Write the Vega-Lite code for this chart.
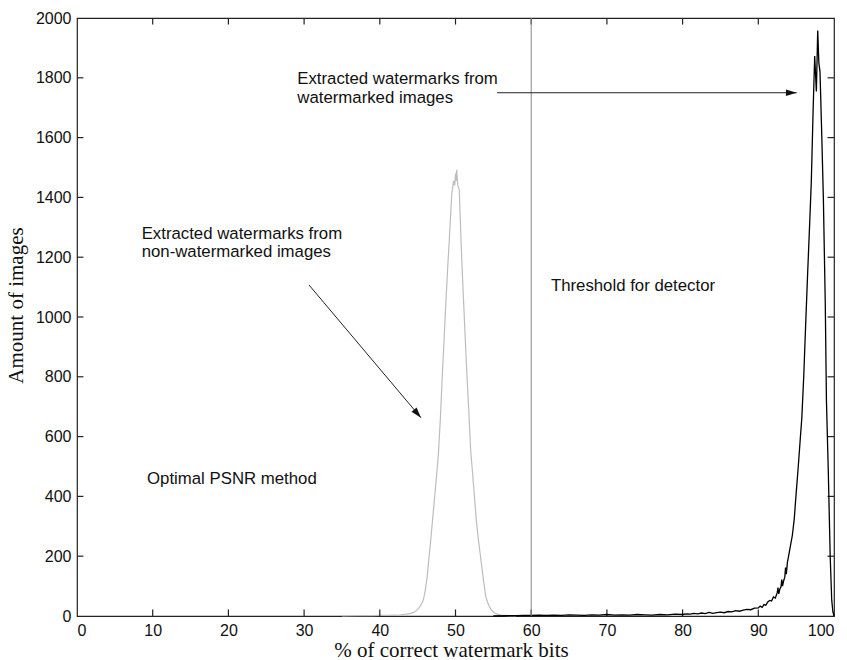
{
  "$schema": "https://vega.github.io/schema/vega-lite/v6.json",
  "width": 757,
  "height": 598,
  "autosize": {"type": "none"},
  "padding": {"left": 77, "top": 18, "right": 13, "bottom": 44},
  "background": "white",
  "config": {
    "view": {"stroke": "#222", "strokeWidth": 1.2},
    "axis": {
      "domain": false,
      "grid": false,
      "ticks": false,
      "labelFont": "Liberation Sans",
      "labelFontSize": 16,
      "labelColor": "#111",
      "titleFont": "Liberation Serif",
      "titleFontSize": 21,
      "titleFontWeight": "normal",
      "titleColor": "#111"
    }
  },
  "datasets": {
    "gray": [
      {"pct": 35, "n": 0}, {"pct": 37, "n": 1}, {"pct": 39, "n": 1}, {"pct": 40, "n": 2},
      {"pct": 41, "n": 2}, {"pct": 42, "n": 3}, {"pct": 42.5, "n": 2}, {"pct": 43, "n": 5},
      {"pct": 43.5, "n": 6}, {"pct": 44, "n": 8}, {"pct": 44.5, "n": 12}, {"pct": 45, "n": 22},
      {"pct": 45.25, "n": 30}, {"pct": 45.5, "n": 40}, {"pct": 45.75, "n": 53}, {"pct": 46, "n": 85},
      {"pct": 46.25, "n": 130}, {"pct": 46.5, "n": 195}, {"pct": 46.75, "n": 260}, {"pct": 47, "n": 330},
      {"pct": 47.25, "n": 400}, {"pct": 47.5, "n": 470}, {"pct": 47.75, "n": 545}, {"pct": 48, "n": 660},
      {"pct": 48.25, "n": 800}, {"pct": 48.5, "n": 930}, {"pct": 48.75, "n": 1060}, {"pct": 49, "n": 1180},
      {"pct": 49.25, "n": 1290}, {"pct": 49.5, "n": 1410}, {"pct": 49.75, "n": 1455}, {"pct": 49.9, "n": 1440},
      {"pct": 50, "n": 1480}, {"pct": 50.08, "n": 1455}, {"pct": 50.16, "n": 1492}, {"pct": 50.3, "n": 1440},
      {"pct": 50.5, "n": 1425}, {"pct": 50.75, "n": 1240}, {"pct": 51, "n": 1090}, {"pct": 51.25, "n": 950},
      {"pct": 51.5, "n": 810}, {"pct": 51.75, "n": 690}, {"pct": 52, "n": 555}, {"pct": 52.25, "n": 480},
      {"pct": 52.5, "n": 400}, {"pct": 52.75, "n": 320}, {"pct": 53, "n": 260}, {"pct": 53.25, "n": 210},
      {"pct": 53.5, "n": 160}, {"pct": 53.75, "n": 110}, {"pct": 54, "n": 65}, {"pct": 54.25, "n": 45},
      {"pct": 54.5, "n": 30}, {"pct": 54.75, "n": 20}, {"pct": 55, "n": 13}, {"pct": 55.25, "n": 9},
      {"pct": 55.5, "n": 6}, {"pct": 56, "n": 3}, {"pct": 56.5, "n": 2}, {"pct": 57, "n": 1},
      {"pct": 58, "n": 0}
    ],
    "black": [
      {"pct": 55, "n": 0}, {"pct": 57, "n": 1}, {"pct": 58, "n": 1}, {"pct": 59, "n": 2},
      {"pct": 60, "n": 2}, {"pct": 61, "n": 3}, {"pct": 62, "n": 2}, {"pct": 63, "n": 3},
      {"pct": 64, "n": 2}, {"pct": 65, "n": 4}, {"pct": 66, "n": 3}, {"pct": 67, "n": 2},
      {"pct": 68, "n": 4}, {"pct": 69, "n": 3}, {"pct": 70, "n": 5}, {"pct": 71, "n": 3},
      {"pct": 72, "n": 4}, {"pct": 73, "n": 3}, {"pct": 74, "n": 5}, {"pct": 75, "n": 4},
      {"pct": 76, "n": 3}, {"pct": 77, "n": 5}, {"pct": 78, "n": 4}, {"pct": 79, "n": 6},
      {"pct": 80, "n": 5}, {"pct": 80.5, "n": 7}, {"pct": 81, "n": 6}, {"pct": 81.5, "n": 9},
      {"pct": 82, "n": 7}, {"pct": 82.5, "n": 10}, {"pct": 83, "n": 8}, {"pct": 83.5, "n": 12},
      {"pct": 84, "n": 9}, {"pct": 84.5, "n": 11}, {"pct": 85, "n": 13}, {"pct": 85.5, "n": 11},
      {"pct": 86, "n": 15}, {"pct": 86.5, "n": 14}, {"pct": 87, "n": 18}, {"pct": 87.5, "n": 16},
      {"pct": 88, "n": 20}, {"pct": 88.5, "n": 22}, {"pct": 89, "n": 21}, {"pct": 89.5, "n": 26},
      {"pct": 90, "n": 27}, {"pct": 90.25, "n": 33}, {"pct": 90.5, "n": 29}, {"pct": 90.75, "n": 38},
      {"pct": 91, "n": 36}, {"pct": 91.25, "n": 47}, {"pct": 91.5, "n": 52}, {"pct": 91.75, "n": 50},
      {"pct": 92, "n": 64}, {"pct": 92.25, "n": 60}, {"pct": 92.5, "n": 78}, {"pct": 92.6, "n": 95},
      {"pct": 92.7, "n": 74}, {"pct": 92.85, "n": 90}, {"pct": 93, "n": 98}, {"pct": 93.1, "n": 122},
      {"pct": 93.2, "n": 100}, {"pct": 93.35, "n": 118}, {"pct": 93.5, "n": 130}, {"pct": 93.6, "n": 162},
      {"pct": 93.7, "n": 140}, {"pct": 93.85, "n": 180}, {"pct": 94, "n": 200}, {"pct": 94.25, "n": 235},
      {"pct": 94.5, "n": 270}, {"pct": 94.75, "n": 325}, {"pct": 95, "n": 410}, {"pct": 95.25, "n": 490},
      {"pct": 95.5, "n": 577}, {"pct": 95.75, "n": 663}, {"pct": 96, "n": 800}, {"pct": 96.25, "n": 970},
      {"pct": 96.5, "n": 1135}, {"pct": 96.75, "n": 1290}, {"pct": 97, "n": 1450}, {"pct": 97.25, "n": 1700},
      {"pct": 97.45, "n": 1873}, {"pct": 97.67, "n": 1754}, {"pct": 97.85, "n": 1958}, {"pct": 98, "n": 1850},
      {"pct": 98.15, "n": 1820}, {"pct": 98.4, "n": 1592}, {"pct": 98.6, "n": 1391}, {"pct": 98.85, "n": 1040},
      {"pct": 99, "n": 722}, {"pct": 99.25, "n": 480}, {"pct": 99.5, "n": 197}, {"pct": 99.7, "n": 53},
      {"pct": 99.85, "n": 15}, {"pct": 100, "n": 0}
    ],
    "notes": [
      {"x": 29.1, "y": 1779, "text": "Extracted watermarks from"},
      {"x": 29.1, "y": 1715, "text": "watermarked images"},
      {"x": 8.54, "y": 1260, "text": "Extracted watermarks from"},
      {"x": 8.54, "y": 1200, "text": "non-watermarked images"},
      {"x": 62.6, "y": 1088, "text": "Threshold for detector"},
      {"x": 9.25, "y": 441, "text": "Optimal PSNR method"}
    ],
    "arrows": [
      {"x": 55.5, "y": 1750, "x2": 95.07, "y2": 1750},
      {"x": 30.65, "y": 1107, "x2": 45.44, "y2": 663}
    ],
    "heads": [
      {"x": 95.07, "y": 1750, "angle": 0},
      {"x": 45.44, "y": 663, "angle": 49.8}
    ],
    "xticks": [
      {"v": 10}, {"v": 20}, {"v": 30}, {"v": 40}, {"v": 50},
      {"v": 60}, {"v": 70}, {"v": 80}, {"v": 90}
    ],
    "yticks": [
      {"v": 200}, {"v": 400}, {"v": 600}, {"v": 800}, {"v": 1000},
      {"v": 1200}, {"v": 1400}, {"v": 1600}, {"v": 1800}
    ]
  },
  "resolve": {"axis": {"x": "independent", "y": "independent"}},
  "layer": [
    {
      "data": {"name": "gray"},
      "mark": {"type": "line", "color": "#bdbdbd", "strokeWidth": 1.2},
      "encoding": {
        "x": {
          "field": "pct", "type": "quantitative",
          "scale": {"domain": [0, 100], "nice": false, "zero": false},
          "axis": {
            "orient": "bottom",
            "values": [0, 10, 20, 30, 40, 50, 60, 70, 80, 90, 100],
            "format": "d",
            "labelPadding": 6,
            "title": "% of correct watermark bits",
            "titleX": 374,
            "titleY": 40,
            "titleAlign": "center",
            "titleBaseline": "alphabetic"
          }
        },
        "y": {
          "field": "n", "type": "quantitative",
          "scale": {"domain": [0, 2000], "nice": false},
          "axis": {
            "orient": "left",
            "values": [0, 200, 400, 600, 800, 1000, 1200, 1400, 1600, 1800, 2000],
            "format": "d",
            "labelPadding": 6,
            "title": "Amount of images",
            "titleX": -55,
            "titleY": 287,
            "titleAngle": -90,
            "titleAlign": "center",
            "titleBaseline": "alphabetic"
          }
        }
      }
    },
    {
      "data": {"name": "xticks"},
      "mark": {"type": "rule", "color": "#222", "strokeWidth": 1.2},
      "encoding": {
        "x": {"field": "v", "type": "quantitative", "axis": null},
        "y": {"datum": 0, "type": "quantitative", "axis": null},
        "y2": {"datum": 22}
      }
    },
    {
      "data": {"name": "xticks"},
      "mark": {"type": "rule", "color": "#222", "strokeWidth": 1.2},
      "encoding": {
        "x": {"field": "v", "type": "quantitative", "axis": null},
        "y": {"datum": 1978, "type": "quantitative", "axis": null},
        "y2": {"datum": 2000}
      }
    },
    {
      "data": {"name": "yticks"},
      "mark": {"type": "rule", "color": "#222", "strokeWidth": 1.2},
      "encoding": {
        "y": {"field": "v", "type": "quantitative", "axis": null},
        "x": {"datum": 0, "type": "quantitative", "axis": null},
        "x2": {"datum": 0.85}
      }
    },
    {
      "data": {"name": "yticks"},
      "mark": {"type": "rule", "color": "#222", "strokeWidth": 1.2},
      "encoding": {
        "y": {"field": "v", "type": "quantitative", "axis": null},
        "x": {"datum": 99.15, "type": "quantitative", "axis": null},
        "x2": {"datum": 100}
      }
    },
    {
      "data": {"name": "black"},
      "mark": {"type": "line", "color": "#000", "strokeWidth": 1.3},
      "encoding": {
        "x": {"field": "pct", "type": "quantitative", "axis": null},
        "y": {"field": "n", "type": "quantitative", "axis": null}
      }
    },
    {
      "data": {"values": [{"t": 60}]},
      "mark": {"type": "rule", "color": "#888", "strokeWidth": 1},
      "encoding": {
        "x": {"field": "t", "type": "quantitative", "axis": null}
      }
    },
    {
      "data": {"name": "arrows"},
      "mark": {"type": "rule", "color": "#222", "strokeWidth": 1},
      "encoding": {
        "x": {"field": "x", "type": "quantitative", "axis": null},
        "y": {"field": "y", "type": "quantitative", "axis": null},
        "x2": {"field": "x2"},
        "y2": {"field": "y2"}
      }
    },
    {
      "data": {"name": "heads"},
      "mark": {"type": "point", "shape": "M0,0L-2,-0.62L-2,0.62Z", "filled": true, "color": "#111", "size": 115, "opacity": 1},
      "encoding": {
        "x": {"field": "x", "type": "quantitative", "axis": null},
        "y": {"field": "y", "type": "quantitative", "axis": null},
        "angle": {"field": "angle", "type": "quantitative", "scale": null}
      }
    },
    {
      "data": {"name": "notes"},
      "mark": {"type": "text", "align": "left", "baseline": "alphabetic", "font": "Liberation Sans", "fontSize": 16.8, "color": "#111"},
      "encoding": {
        "x": {"field": "x", "type": "quantitative", "axis": null},
        "y": {"field": "y", "type": "quantitative", "axis": null},
        "text": {"field": "text"}
      }
    }
  ]
}
